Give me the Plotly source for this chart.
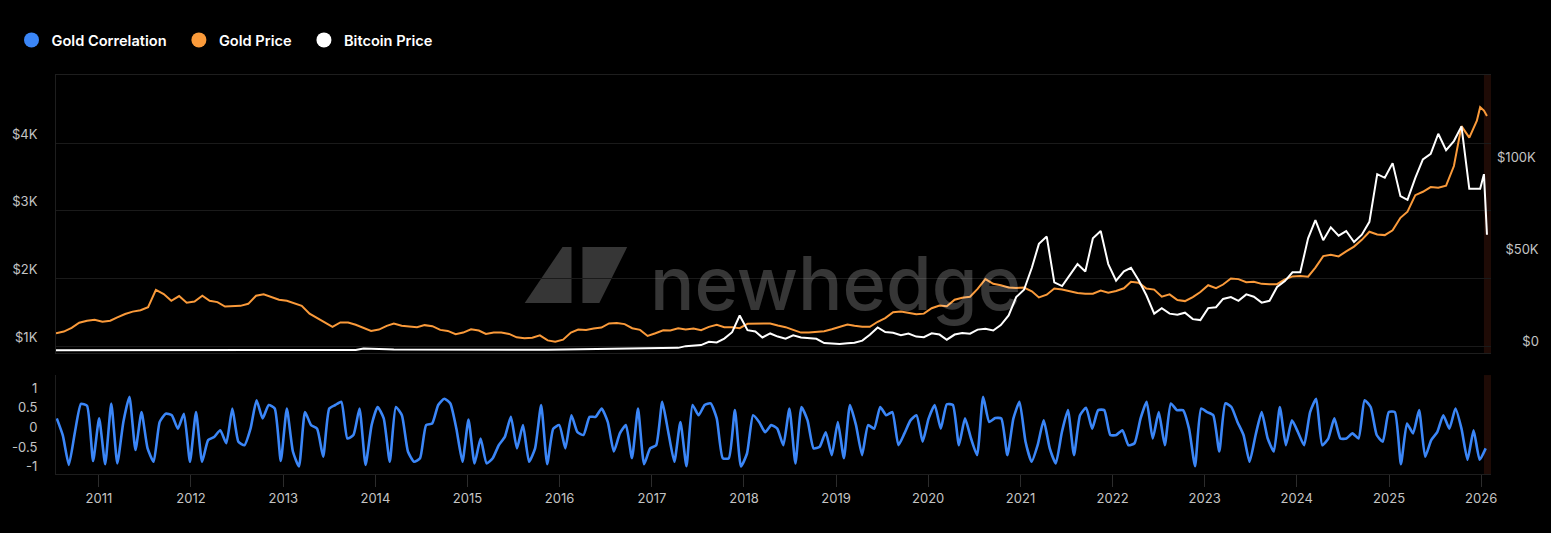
import pandas as pd
import plotly.graph_objects as go

# ---------------- data ----------------
month_dates = list((pd.date_range("2010-07-01", "2025-12-01", freq="MS") + pd.Timedelta(days=14)).strftime("%Y-%m-%d"))
tail_dates = ["2025-12-28", "2026-01-12", "2026-01-24"]
price_dates = month_dates + tail_dates

gold_price = [
    1190, 1215, 1270, 1345, 1375, 1390,
    1360, 1375, 1425, 1475, 1510, 1530, 1575, 1830, 1770, 1670, 1740, 1640,
    1660, 1745, 1670, 1650, 1585, 1595, 1595, 1625, 1745, 1765, 1720, 1685,
    1670, 1625, 1595, 1480, 1415, 1345, 1285, 1350, 1350, 1315, 1275, 1225,
    1245, 1300, 1335, 1300, 1290, 1280, 1310, 1295, 1240, 1225, 1175, 1200,
    1250, 1230, 1180, 1200, 1200, 1180, 1130, 1115, 1125, 1160, 1085, 1065,
    1095, 1200, 1245, 1240, 1260, 1275, 1335, 1340, 1325, 1265, 1240, 1150,
    1190, 1235, 1230, 1265, 1245, 1260, 1235, 1285, 1315, 1280, 1280, 1265,
    1330, 1330, 1325, 1335, 1305, 1280, 1240, 1200, 1200, 1215, 1220, 1250,
    1290, 1320, 1300, 1285, 1285, 1360, 1415, 1500, 1510, 1495, 1470, 1480,
    1560, 1600, 1590, 1685, 1715, 1730, 1845, 1990, 1920, 1900, 1865, 1860,
    1865, 1810, 1720, 1760, 1850, 1835, 1805, 1785, 1775, 1775, 1820, 1790,
    1815, 1855, 1950, 1935, 1850, 1835, 1730, 1765, 1680, 1665, 1725, 1800,
    1900, 1855, 1910, 2000, 1990, 1945, 1950, 1920, 1915, 1915, 1985, 2030,
    2035, 2025, 2160, 2330, 2350, 2325, 2400, 2470, 2570, 2690, 2650, 2640,
    2710, 2895, 2985, 3230, 3280, 3350, 3340, 3370, 3660, 4250, 4080, 4330,
    4530, 4480, 4400,
]

bitcoin_price = [
    0.07, 0.07, 0.06, 0.1, 0.25, 0.25,
    0.4, 0.9, 0.8, 1.5, 7, 17, 14, 10, 5, 3.5, 2.5, 4,
    6, 5, 5, 5, 5.1, 6.5, 9, 11, 12, 11.5, 12, 13.5,
    20, 33, 90, 140, 120, 100, 95, 130, 130, 200, 1000, 750,
    850, 600, 480, 450, 600, 640, 590, 480, 390, 340, 380, 320,
    220, 255, 245, 235, 230, 260, 285, 230, 236, 314, 377, 430,
    370, 437, 416, 448, 530, 670, 624, 575, 609, 700, 742, 960,
    970, 1190, 1080, 1350, 2300, 2500, 2870, 4700, 4300, 6400, 9900, 19000,
    11000, 10300, 7000, 9200, 7500, 6400, 8200, 7000, 6600, 6300, 4000, 3700,
    3450, 3800, 4100, 5300, 8500, 12500, 10000, 9600, 8300, 9200, 7500, 7200,
    9300, 8600, 5800, 8600, 9500, 9100, 11300, 11700, 10800, 13800, 19000, 29000,
    33000, 45000, 58000, 62000, 37000, 35000, 41000, 47000, 43000, 61000, 65000, 47000,
    38000, 43000, 45000, 38000, 30000, 20000, 23000, 20000, 19400, 20500, 17000, 16500,
    23000, 23500, 28000, 29000, 27000, 30500, 29200, 26000, 27000, 34500, 37700, 42500,
    42500, 61000, 71000, 60000, 67000, 62500, 65000, 59000, 63000, 70000, 96000, 94000,
    102000, 84000, 82000, 94000, 104000, 107000, 118000, 109000, 114000, 122000, 88000, 88000,
    88000, 96000, 63000,
]

corr_dates = list(pd.date_range("2010-07-18", periods=237, freq="24D").strftime("%Y-%m-%d"))
gold_correlation = [
    0.23, -0.2, -0.95, -0.12, 0.6, 0.55, -0.85, 0.23, -0.93, 0.61,
    -0.91, 0.14, 0.78, -0.57, 0.39, -0.53, -0.87, 0.14, 0.35, 0.31,
    -0.03, 0.35, -0.87, 0.39, -0.87, -0.32, -0.24, -0.07, -0.40, 0.48,
    -0.36, -0.45, -0.03, 0.69, 0.23, 0.57, 0.48, -0.85, 0.48, -0.61,
    -0.99, 0.39, 0.06, -0.03, -0.74, 0.48, 0.57, 0.65, -0.28, -0.19,
    0.48, -0.95, 0.06, 0.52, 0.23, -0.87, 0.52, 0.31, -0.61, -0.87,
    -0.78, 0.06, 0.1, 0.57, 0.73, 0.61, -0.03, -0.87, 0.2, -0.91,
    -0.28, -0.91, -0.78, -0.45, -0.24, 0.27, -0.53, 0.06, -0.87, -0.53,
    0.57, -0.93, -0.03, 0.06, -0.53, 0.31, -0.12, -0.19, 0.27, 0.27,
    0.48, 0.14, -0.61, -0.15, 0.06, -0.78, 0.48, -0.93, -0.53, -0.45,
    0.65, -0.12, -0.87, 0.14, -0.98, 0.57, 0.31, 0.57, 0.61, 0.23,
    -0.78, -0.78, 0.44, -0.99, -0.66, 0.31, 0.14, -0.12, 0.06, -0.03,
    -0.45, 0.48, -0.91, 0.52, 0.18, -0.53, -0.49, -0.12, -0.70, 0.14,
    -0.78, 0.57, 0.06, -0.70, 0.06, -0.03, 0.52, 0.31, 0.39, -0.45,
    -0.15, 0.18, 0.31, -0.36, 0.23, 0.57, -0.03, 0.59, 0.57, -0.45,
    0.23, -0.28, -0.70, 0.78, 0.14, 0.24, 0.23, -0.70, 0.23, 0.65,
    -0.36, -0.87, -0.45, 0.18, -0.53, -0.91, -0.12, 0.44, -0.70, 0.31,
    0.50, -0.03, 0.44, 0.44, -0.19, -0.19, -0.07, -0.45, -0.40, 0.23,
    0.65, -0.28, 0.39, -0.45, 0.61, 0.44, 0.44, -0.03, -0.98, 0.48,
    0.39, 0.31, -0.61, 0.61, 0.52, 0.14, -0.19, -0.87, -0.19, 0.39,
    -0.28, -0.61, 0.52, -0.45, 0.18, -0.12, -0.45, 0.39, 0.73, -0.45,
    -0.28, 0.23, -0.28, -0.28, -0.15, -0.28, 0.69, 0.52, -0.19, -0.36,
    0.39, 0.39, -0.93, 0.10, -0.15, 0.44, -0.74, -0.32, -0.12, 0.31,
    -0.03, 0.48, -0.03, -0.82, -0.07, -0.82, -0.53,
]

gold_ticks = [1000, 2000, 3000, 4000]
gold_tick_text = ["$1K", "$2K", "$3K", "$4K"]
btc_ticks = [0, 50000, 100000]
btc_tick_text = ["\u2007\u2007\u2007$0", "\u2007$50K", "$100K"]
corr_ticks = [-1, -0.5, 0, 0.5, 1]
corr_tick_text = ["-1", "-0.5", "0", "0.5", "1"]
year_ticks = [f"{y}-01-01" for y in range(2011, 2027)]
year_tick_text = [str(y) for y in range(2011, 2027)]
legend_names = ["Gold Correlation", "Gold Price", "Bitcoin Price"]

# ---------------- style ----------------
BLUE = "#3b86f7"
ORANGE = "#fa9a3a"
WHITE = "#ffffff"
BG = "#000000"
GRID = "#1a1a1a"
AXLINE = "#1e1e1e"
TICKC = "#c4c4c4"
FONT = "Inter"

W, H = 1551, 533
L, R, T, B = 55, 54, 75, 59
PW, PH = W - L - R, H - T - B

def px_to_paper(x, y):
    return (x - L) / PW, (H - B - y) / PH

fig = go.Figure()

fig.add_trace(go.Scatter(x=price_dates, y=gold_price, name="Gold Price", mode="lines",
                         line=dict(color=ORANGE, width=2), xaxis="x", yaxis="y", showlegend=False))
fig.add_trace(go.Scatter(x=price_dates, y=bitcoin_price, name="Bitcoin Price", mode="lines",
                         line=dict(color=WHITE, width=2), xaxis="x", yaxis="y2", showlegend=False))
fig.add_trace(go.Scatter(x=corr_dates, y=gold_correlation, name="Gold Correlation", mode="lines",
                         line=dict(color=BLUE, width=2.6, shape="spline", smoothing=0.5),
                         xaxis="x2", yaxis="y3", showlegend=False))

# legend-only entries (circles)
for nm, col in zip(legend_names, [BLUE, ORANGE, WHITE]):
    fig.add_trace(go.Scatter(x=[None], y=[None], name=nm + "\u2002", mode="markers",
                             marker=dict(color=col, size=15, symbol="circle"), showlegend=True))

x_range = ["2010-07-15", "2026-02-09"]
top_dom = [0.303, 1.0]
bot_dom = [0.0, 0.248]

fig.update_layout(
    width=W, height=H,
    margin=dict(l=L, r=R, t=T, b=B),
    paper_bgcolor=BG, plot_bgcolor=BG,
    font=dict(family=FONT, color=TICKC, size=13),
    showlegend=True,
    legend=dict(orientation="h", x=-0.031, xanchor="left", y=1.088, yanchor="middle",
                font=dict(family=FONT, size=14.6, color="#ffffff", weight=600),
                bgcolor="rgba(0,0,0,0)", itemwidth=30, traceorder="normal"),
    xaxis=dict(domain=[0, 1], anchor="y", range=x_range, type="date", showticklabels=False,
               showgrid=False, zeroline=False, showline=True, linecolor=AXLINE, mirror=True,
               tickvals=year_ticks),
    xaxis2=dict(domain=[0, 1], anchor="y3", range=x_range, type="date", matches="x",
                tickvals=year_ticks, ticktext=year_tick_text, ticks="outside", ticklen=12,
                tickcolor="#2c2c2c", tickwidth=1, showgrid=False, zeroline=False,
                showline=True, linecolor=AXLINE, tickfont=dict(size=13, color=TICKC)),
    yaxis=dict(domain=top_dom, anchor="x", range=[897, 5005], tickvals=gold_ticks,
               ticktext=gold_tick_text, showgrid=True, gridcolor=GRID, zeroline=False,
               showline=True, linecolor=AXLINE, ticklabelposition="outside top",
               ticklabelstandoff=15, tickfont=dict(size=13, color=TICKC)),
    yaxis2=dict(domain=top_dom, anchor="x", overlaying="y", side="right", range=[-1500, 150000],
                tickvals=btc_ticks, ticktext=btc_tick_text, showgrid=False, zeroline=False,
                showline=False, ticklabelposition="outside top", ticklabelstandoff=5,
                tickfont=dict(size=13, color=TICKC)),
    yaxis3=dict(domain=bot_dom, anchor="x2", range=[-1.18, 1.33], tickvals=corr_ticks,
                ticktext=corr_tick_text, showgrid=False, zeroline=False, showline=True,
                linecolor=AXLINE, ticklabelstandoff=15, tickfont=dict(size=13, color=TICKC)),
)

# highlighted band at right edge (both panels)
for yref in ("y domain", "y3 domain"):
    fig.add_shape(type="rect", xref="x", yref=yref, x0="2026-01-12", x1=x_range[1], y0=0, y1=1,
                  fillcolor="rgba(110,40,20,0.28)", line_width=0, layer="below")

# watermark logo (decorative)
def path_from_px(points):
    pts = [px_to_paper(x, y) for x, y in points]
    return "M " + " L ".join(f"{a:.5f},{b:.5f}" for a, b in pts) + " Z"

logo_left = [(526, 303), (564, 247), (573, 247), (573, 303)]
logo_right = [(584, 247), (629, 247), (601, 303), (584, 303)]
for pts in (logo_left, logo_right):
    fig.add_shape(type="path", xref="paper", yref="paper", path=path_from_px(pts),
                  fillcolor="#363636", line_width=0, layer="below")

wx, wy = px_to_paper(838, 283)
fig.add_annotation(text="newhedge", xref="paper", yref="paper", x=wx, y=wy,
                   xanchor="center", yanchor="middle", showarrow=False,
                   font=dict(family=FONT, size=74, color="rgba(255,255,255,0.21)", weight=500))

fig.write_html("out.html")
